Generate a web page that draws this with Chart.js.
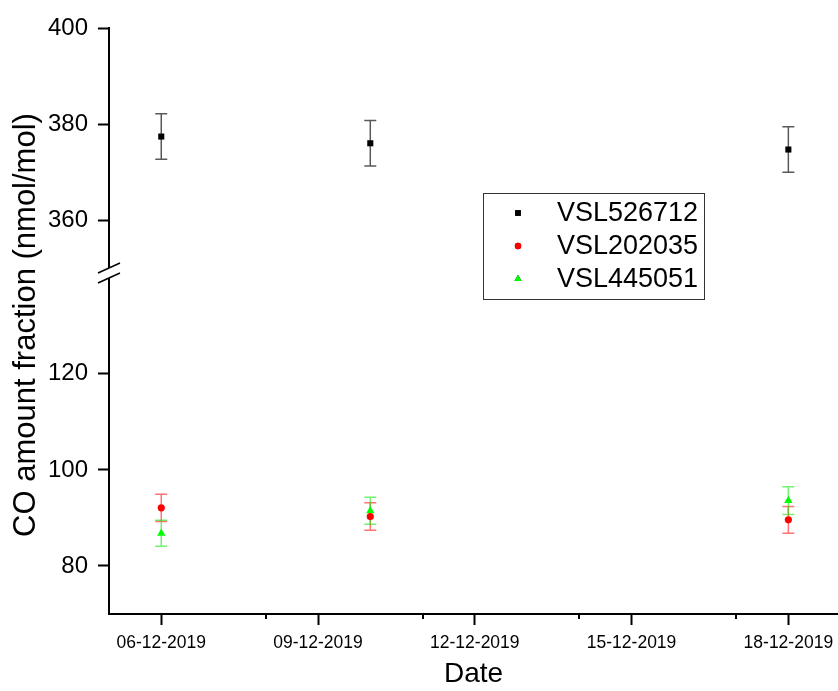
<!DOCTYPE html>
<html>
<head>
<meta charset="utf-8">
<script src="https://cdn.jsdelivr.net/npm/chart.js@4.4.0/dist/chart.umd.min.js"></script>
<style>
  html, body { margin: 0; padding: 0; background: #fff; }
  #wrap { width: 838px; height: 691px; }
</style>
</head>
<body>
<div id="wrap"><canvas id="chart" width="838" height="691"></canvas></div>
<script>
// measurement days (December 2019)
const days = [6, 10, 18];

const seriesNames = ['VSL526712', 'VSL202035', 'VSL445051'];
const vsl526712 = [377.4, 376.0, 374.7];
const vsl526712Err = [4.75, 4.75, 4.75];
const vsl202035 = [92.1, 90.3, 89.6];
const vsl202035Err = [2.85, 2.85, 2.8];
const vsl445051 = [86.8, 91.5, 93.6];
const vsl445051Err = [2.7, 2.8, 2.9];

const xTickDays = [6, 9, 12, 15, 18];
const xTickLabels = ['06-12-2019', '09-12-2019', '12-12-2019', '15-12-2019', '18-12-2019'];
const xMinorDays = [8, 11, 14, 17];
const yTopTicks = [360, 380, 400];
const yBottomTicks = [80, 100, 120];

const FONT = 'Arial, "Liberation Sans", sans-serif';

function points(vals) {
  return vals.map(function(v, i) { return { x: days[i], y: v }; });
}

// draws the vertical error bars with caps, behind the markers
const errorBars = {
  id: 'errorBars',
  beforeDatasetsDraw(chart) {
    const ctx = chart.ctx;
    const xs = chart.scales.x;
    chart.data.datasets.forEach(function(ds) {
      const ys = chart.scales[ds.yAxisID];
      ds.data.forEach(function(p, j) {
        const x = xs.getPixelForValue(p.x);
        const top = ys.getPixelForValue(p.y + ds.errors[j]);
        const bot = ys.getPixelForValue(p.y - ds.errors[j]);
        ctx.save();
        ctx.strokeStyle = ds.errColor;
        ctx.lineWidth = 1.5;
        ctx.beginPath();
        ctx.moveTo(x, top); ctx.lineTo(x, bot);
        ctx.moveTo(x - 6, top); ctx.lineTo(x + 6, top);
        ctx.moveTo(x - 6, bot); ctx.lineTo(x + 6, bot);
        ctx.stroke();
        ctx.restore();
      });
    });
  }
};

// axis break, minor x ticks, y title and the boxed legend
const extras = {
  id: 'extras',
  afterDraw(chart) {
    const ctx = chart.ctx;
    const area = chart.chartArea;
    const xs = chart.scales.x;
    const yb = chart.scales.yTop.bottom;
    ctx.save();

    // minor ticks
    ctx.strokeStyle = '#000';
    ctx.lineWidth = 2;
    xMinorDays.forEach(function(d) {
      const x = Math.round(xs.getPixelForValue(d));
      ctx.beginPath();
      ctx.moveTo(x, area.bottom);
      ctx.lineTo(x, area.bottom + 5);
      ctx.stroke();
    });

    // break marks on the y axis
    const ax = area.left;
    ctx.fillStyle = '#fff';
    ctx.fillRect(ax - 3, yb - 5, 6, 10);
    ctx.lineWidth = 1.5;
    ctx.beginPath();
    ctx.moveTo(ax - 11, yb + 0); ctx.lineTo(ax + 11, yb - 10);
    ctx.moveTo(ax - 11, yb + 10); ctx.lineTo(ax + 11, yb);
    ctx.stroke();

    // y axis title
    ctx.fillStyle = '#000';
    ctx.font = '31px ' + FONT;
    ctx.textAlign = 'center';
    ctx.textBaseline = 'middle';
    ctx.translate(26, 325);
    ctx.rotate(-Math.PI / 2);
    ctx.fillText('CO amount fraction (nmol/mol)', 0, 0);
    ctx.restore();

    // legend
    ctx.save();
    ctx.strokeStyle = '#333';
    ctx.lineWidth = 1;
    ctx.strokeRect(483.5, 193.5, 221, 106);
    ctx.font = '27px ' + FONT;
    ctx.textBaseline = 'middle';
    ctx.fillStyle = '#000';
    const rows = [213, 246, 279];
    chart.data.datasets.forEach(function(ds, i) {
      Chart.helpers.drawPoint(ctx, {
        pointStyle: ds.pointStyle, radius: ds.legendRadius, rotation: 0, borderWidth: 0
      }, 518, rows[i]);
      ctx.fillStyle = ds.backgroundColor;
      ctx.fill();
      ctx.fillStyle = '#000';
      ctx.fillText(ds.label, 557, rows[i] + 1);
    });
    ctx.restore();
  }
};

function yAxis(min, max, ticks, weight) {
  return {
    type: 'linear',
    position: 'left',
    stack: 'co',
    stackWeight: weight,
    min: min,
    max: max,
    afterBuildTicks: function(s) { s.ticks = ticks.map(function(v) { return { value: v }; }); },
    afterFit: function(s) { s.width = 109; },
    border: { display: true, color: '#000', width: 2 },
    grid: { drawOnChartArea: false, drawTicks: true, tickLength: 11, tickColor: '#000', tickWidth: 2 },
    ticks: { color: '#000', padding: 10, font: { family: FONT, size: 24 } }
  };
}

new Chart(document.getElementById('chart'), {
  type: 'scatter',
  data: {
    datasets: [
      {
        label: seriesNames[0], data: points(vsl526712), errors: vsl526712Err, yAxisID: 'yTop',
        pointStyle: 'rect', pointRadius: 4.3, legendRadius: 4, backgroundColor: '#000', borderColor: '#000',
        borderWidth: 0, errColor: 'rgba(0,0,0,0.65)'
      },
      {
        label: seriesNames[1], data: points(vsl202035), errors: vsl202035Err, yAxisID: 'yBottom',
        pointStyle: 'circle', pointRadius: 3.6, legendRadius: 3.2, backgroundColor: '#ff0000', borderColor: '#ff0000',
        borderWidth: 0, errColor: 'rgba(255,0,0,0.55)'
      },
      {
        label: seriesNames[2], data: points(vsl445051), errors: vsl445051Err, yAxisID: 'yBottom',
        pointStyle: 'triangle', pointRadius: 4.8, legendRadius: 4.2, backgroundColor: '#00ff00', borderColor: '#00ff00',
        borderWidth: 0, errColor: 'rgba(0,230,0,0.55)'
      }
    ]
  },
  options: {
    responsive: false,
    animation: false,
    devicePixelRatio: 1,
    layout: { autoPadding: false, padding: { top: 28, right: 0, left: 0, bottom: 0 } },
    plugins: { legend: { display: false }, tooltip: { enabled: false } },
    scales: {
      x: {
        type: 'linear',
        min: 5,
        max: 18.95,
        afterBuildTicks: function(s) { s.ticks = xTickDays.map(function(v) { return { value: v }; }); },
        afterFit: function(s) { s.height = 77; },
        border: { display: true, color: '#000', width: 2 },
        grid: { drawOnChartArea: false, drawTicks: true, tickLength: 11, tickColor: '#000', tickWidth: 2 },
        ticks: {
          color: '#000', padding: 3, maxRotation: 0, font: { family: FONT, size: 17.5, lineHeight: 1.7 },
          callback: function(v) { return xTickLabels[xTickDays.indexOf(v)]; }
        },
        title: { display: true, text: 'Date', color: '#000', padding: 0, font: { family: FONT, size: 28 } }
      },
      // stacked axes are laid out bottom-up in definition order reversed, so the lower part comes first
      yBottom: yAxis(70, 141, yBottomTicks, 71),
      yTop: yAxis(349, 400, yTopTicks, 51)
    }
  },
  plugins: [errorBars, extras]
});
</script>
</body>
</html>
